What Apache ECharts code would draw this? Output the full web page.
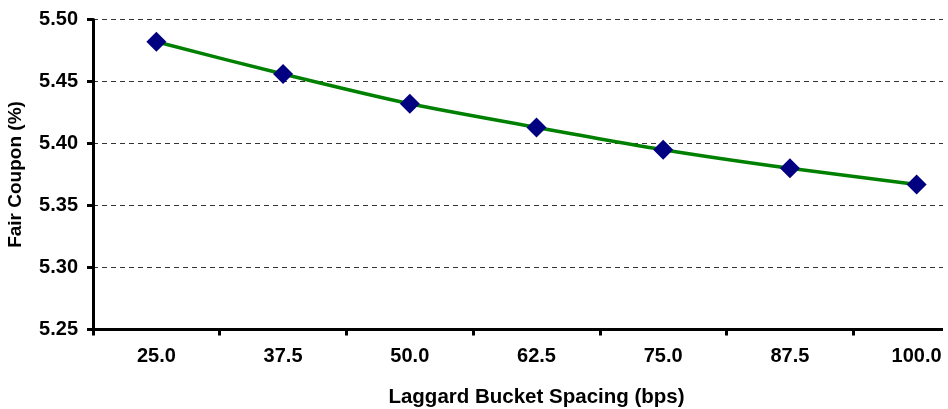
<!DOCTYPE html>
<html>
<head>
<meta charset="utf-8">
<title>Fair Coupon vs Laggard Bucket Spacing</title>
<script src="https://cdn.jsdelivr.net/npm/echarts@6/dist/echarts.min.js"></script>
<style>
  html, body { margin: 0; padding: 0; background: #ffffff; width: 948px; height: 409px; overflow: hidden; }
  #chart { width: 943px; height: 409px; }
</style>
</head>
<body>
<div id="chart"></div>
<script>
// Laggard bucket spacing (bps) on the category axis
const spacings = ['25.0', '37.5', '50.0', '62.5', '75.0', '87.5', '100.0'];
// Fair coupon (%) for each spacing
const fairCoupon = [5.482, 5.456, 5.432, 5.413, 5.395, 5.380, 5.367];
// Value axis range
const yMin = 5.25;
const yMax = 5.50;
const yStep = 0.05;

const chart = echarts.init(document.getElementById('chart'), null, { renderer: 'canvas' });

const labelFont = {
  fontFamily: 'Liberation Sans, Arial, Helvetica, sans-serif',
  fontWeight: 'bold',
  fontSize: 20,
  color: '#000000'
};

chart.setOption({
  animation: false,
  backgroundColor: '#ffffff',
  grid: {
    left: 93,
    top: 19.5,
    width: 887,
    height: 310,
    containLabel: false,
    outerBoundsMode: 'none'
  },
  xAxis: {
    type: 'category',
    data: spacings,
    boundaryGap: true,
    name: 'Laggard Bucket Spacing (bps)',
    nameLocation: 'middle',
    nameGap: 57,
    nameTextStyle: {
      fontFamily: 'Liberation Sans, Arial, Helvetica, sans-serif',
      fontSize: 20.5,
      fontWeight: 'bold',
      color: '#000000'
    },
    axisLine: { show: true, lineStyle: { color: '#000000', width: 3 } },
    axisTick: { show: true, inside: false, length: 6, lineStyle: { color: '#000000', width: 3 } },
    axisLabel: Object.assign({ margin: 17 }, labelFont),
    splitLine: { show: false }
  },
  yAxis: {
    type: 'value',
    min: yMin,
    max: yMax,
    interval: yStep,
    name: 'Fair Coupon (%)',
    nameLocation: 'middle',
    nameGap: 68,
    nameTextStyle: {
      fontFamily: 'Liberation Sans, Arial, Helvetica, sans-serif',
      fontSize: 19,
      fontWeight: 'bold',
      color: '#000000'
    },
    axisLine: { show: true, lineStyle: { color: '#000000', width: 3 } },
    axisTick: { show: true, inside: false, length: 6, lineStyle: { color: '#000000', width: 3 } },
    axisLabel: Object.assign({
      margin: 15,
      formatter: function (v) { return v.toFixed(2); }
    }, labelFont),
    splitLine: {
      show: true,
      lineStyle: { color: '#333333', width: 1, type: [5, 4] }
    }
  },
  series: [{
    type: 'line',
    data: fairCoupon,
    smooth: 0.25,
    symbol: 'diamond',
    symbolSize: 20,
    itemStyle: { color: '#000080' },
    lineStyle: { color: '#008000', width: 3.5 },
    z: 3
  }]
});
</script>
</body>
</html>
